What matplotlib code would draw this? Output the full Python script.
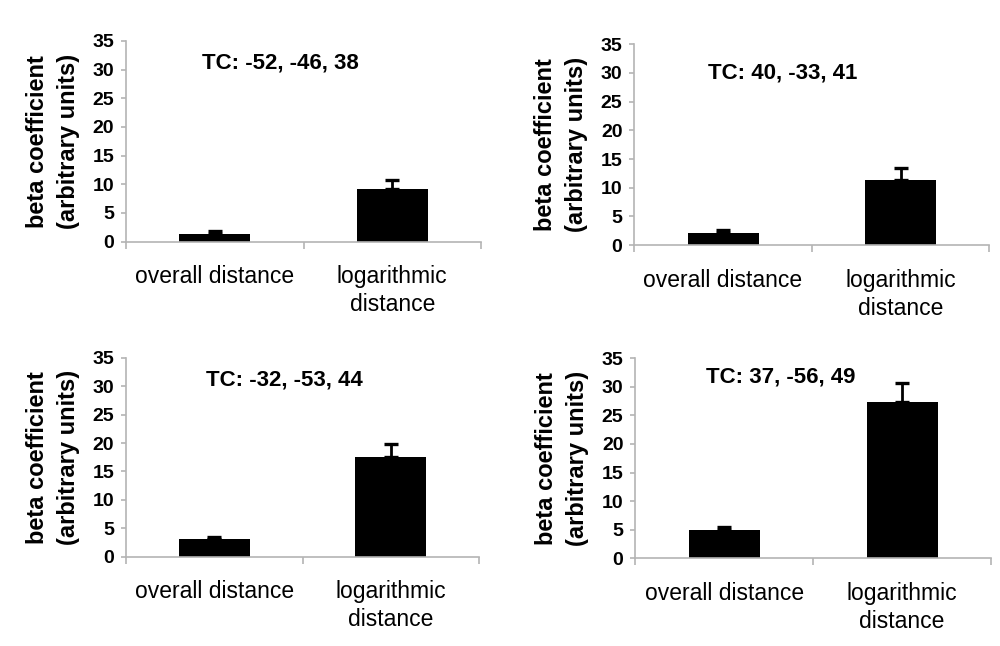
import matplotlib
matplotlib.use("Agg")
import matplotlib.pyplot as plt

plt.rcParams['font.family'] = ['Liberation Sans', 'DejaVu Sans']

categories = ["overall distance", "logarithmic\ndistance"]
titles = ["TC: -52, -46, 38", "TC: 40, -33, 41", "TC: -32, -53, 44", "TC: 37, -56, 49"]
means = [
    [1.4, 9.1],
    [2.1, 11.4],
    [3.2, 17.6],
    [4.9, 27.4],
]
errors = [
    [0.5, 1.6],
    [0.5, 2.0],
    [0.35, 2.3],
    [0.6, 3.3],
]
yticks = [0, 5, 10, 15, 20, 25, 30, 35]

# layout (figure fractions) and title positions (axes fractions)
axes_rects = [
    [0.126, 0.6259, 0.355, 0.3107],
    [0.6343, 0.6207, 0.355, 0.3107],
    [0.126, 0.1382, 0.353, 0.3080],
    [0.6353, 0.1358, 0.3557, 0.3096],
]
title_pos = [
    (0.434, 0.889),
    (0.419, 0.855),
    (0.450, 0.889),
    (0.409, 0.908),
]

axis_color = "#b4b4b4"
fig = plt.figure(figsize=(10, 6.46), dpi=100)

for i in range(4):
    ax = fig.add_axes(axes_rects[i])
    x = range(len(categories))
    ax.bar(x, means[i], width=0.4, color="black", zorder=2)
    ax.errorbar(x, means[i], yerr=[[0, 0], errors[i]], fmt="none",
                ecolor="black", elinewidth=2.0, capsize=4.8, capthick=2.4, zorder=3)
    ax.set_xlim(-0.5, 1.5)
    ax.set_ylim(0, 35)
    ax.set_yticks(yticks)
    ax.set_yticklabels([str(v) for v in yticks], fontsize=14, fontweight="bold")
    ax.set_xticks([-0.5, 0.5, 1.5])
    ax.set_xticklabels([])
    ax.set_xticks([0, 1], minor=True)
    ax.set_xticklabels(categories, minor=True, fontsize=16.5, linespacing=1.28)
    ax.tick_params(axis="x", which="minor", length=0, pad=17)
    ax.tick_params(axis="x", which="major", length=5, width=1.2, color=axis_color, direction="out")
    ax.tick_params(axis="y", length=3.5, width=1.2, color=axis_color, pad=5)
    for s in ["top", "right"]:
        ax.spines[s].set_visible(False)
    for s in ["left", "bottom"]:
        ax.spines[s].set_color(axis_color)
        ax.spines[s].set_linewidth(1.2)
    ax.set_ylabel("beta coefficient\n(arbitrary units)", fontsize=17, fontweight="bold",
                  linespacing=1.45)
    ax.yaxis.set_label_coords(-0.13, 0.5)
    ax.text(title_pos[i][0], title_pos[i][1], titles[i], transform=ax.transAxes,
            ha="center", va="center", fontsize=16, fontweight="bold")

fig.savefig("out.png", dpi=100)
